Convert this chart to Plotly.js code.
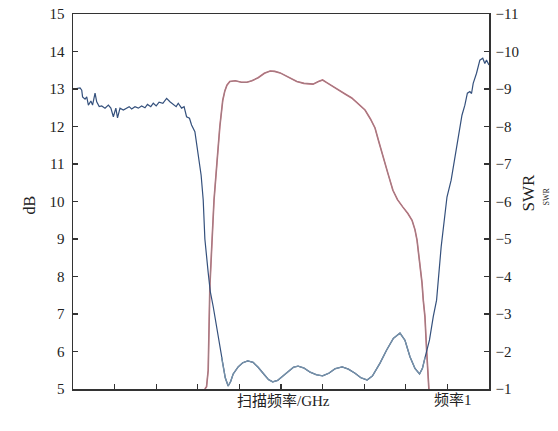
<!DOCTYPE html>
<html>
<head>
<meta charset="utf-8">
<script src="https://cdn.plot.ly/plotly-3.0.1.min.js"></script>
<style>html,body{margin:0;padding:0;background:#fff;}#chart{width:558px;height:431px;}</style>
</head>
<body>
<div id="chart"></div>
<script>
// Blue curve (dB)
var blueX = [0.01,0.17,0.21,0.23,0.29,0.33,0.37,0.43,0.47,0.53,0.57,0.63,0.69,0.77,0.85,0.91,0.97,1.03,1.07,1.13,1.21,1.29,1.35,1.41,1.49,1.57,1.65,1.73,1.79,1.87,1.93,2.0,2.07,2.16,2.25,2.33,2.41,2.48,2.53,2.61,2.67,2.73,2.8,2.85,2.93,3.0,3.08,3.13,3.17,3.25,3.3,3.37,3.45,3.57,3.66,3.73,3.79,3.85,3.97,4.08,4.2,4.33,4.45,4.6,4.7,4.8,4.92,5.05,5.2,5.3,5.41,5.55,5.7,5.85,6.0,6.15,6.3,6.47,6.62,6.78,6.92,7.07,7.2,7.38,7.54,7.7,7.86,7.98,8.1,8.22,8.33,8.4,8.46,8.57,8.66,8.74,8.85,8.99,9.09,9.18,9.25,9.35,9.42,9.48,9.54,9.58,9.62,9.7,9.78,9.85,9.9,9.94,10.0];
var blueY = [13.0,13.03,12.97,12.79,12.73,12.79,12.57,12.68,12.57,12.89,12.66,12.53,12.55,12.49,12.57,12.49,12.26,12.49,12.23,12.49,12.44,12.49,12.53,12.47,12.53,12.49,12.55,12.5,12.59,12.53,12.62,12.55,12.65,12.62,12.75,12.66,12.59,12.53,12.62,12.49,12.53,12.26,12.22,12.04,11.86,11.37,10.7,10.04,9.0,8.1,7.6,7.2,6.65,5.85,5.3,5.08,5.2,5.4,5.59,5.7,5.75,5.71,5.58,5.38,5.25,5.19,5.23,5.35,5.5,5.58,5.61,5.56,5.45,5.38,5.35,5.42,5.54,5.59,5.53,5.42,5.3,5.24,5.35,5.69,6.04,6.35,6.49,6.3,5.86,5.55,5.4,5.55,5.83,6.31,6.93,7.37,8.79,10.12,10.57,11.19,11.64,12.3,12.57,12.89,12.93,12.88,13.15,13.42,13.77,13.82,13.68,13.77,13.64];
// Red curve (dB)
var redX = [3.17,3.21,3.25,3.27,3.29,3.34,3.39,3.46,3.53,3.6,3.65,3.7,3.77,3.9,4.05,4.18,4.3,4.45,4.6,4.74,4.85,4.98,5.1,5.25,5.38,5.55,5.77,5.9,6.0,6.1,6.25,6.4,6.55,6.7,6.85,7.02,7.15,7.26,7.35,7.45,7.57,7.69,7.8,7.93,8.05,8.15,8.22,8.27,8.33,8.39,8.42,8.46,8.5,8.54,8.56];
var redY = [5.0,5.06,5.5,6.84,7.73,8.9,10.04,11.03,12.0,12.7,12.95,13.1,13.2,13.22,13.18,13.18,13.22,13.3,13.42,13.48,13.47,13.43,13.36,13.27,13.2,13.15,13.13,13.2,13.24,13.17,13.06,12.96,12.86,12.76,12.6,12.44,12.2,11.96,11.6,11.19,10.75,10.3,10.05,9.85,9.68,9.5,9.25,8.97,8.4,7.83,7.37,6.93,6.04,5.06,4.9];
var xTickVals = [0,1,2,3,4,5,6,7,8,9,10];
var leftTicks = [5,6,7,8,9,10,11,12,13,14,15];
var rightTicks = [-1,-2,-3,-4,-5,-6,-7,-8,-9,-10,-11];

// lighter overlay on the ripple part of the blue curve (same data, subset)
var rippleX = [], rippleY = [];
blueX.forEach(function(v, i){ if (v >= 3.57 && v <= 8.46) { rippleX.push(v); rippleY.push(blueY[i]); } });

var serif = "'Liberation Serif', 'Times New Roman', 'Noto Sans CJK SC', serif";
var traces = [
  {x: redX, y: redY, mode: 'lines', line: {color: '#c26373', width: 1.6}, hoverinfo: 'skip'},
  {x: redX, y: redY, mode: 'lines', line: {color: '#8e8e8e', width: 0.7}, hoverinfo: 'skip'},
  {x: blueX, y: blueY, mode: 'lines', line: {color: '#34507c', width: 1.2}, hoverinfo: 'skip'},
  {x: rippleX, y: rippleY, mode: 'lines', line: {color: '#7590a8', width: 1.4}, hoverinfo: 'skip'},
  {x: [], y: [], yaxis: 'y2', mode: 'lines', hoverinfo: 'skip'}
];
var axLine = {showline: true, linecolor: '#333', linewidth: 1.5, ticks: 'inside', ticklen: 5, tickcolor: '#333', tickwidth: 1.2, showgrid: false, zeroline: false};
var layout = {
  width: 558, height: 431,
  margin: {l: 73, r: 69, t: 14, b: 42},
  showlegend: false,
  paper_bgcolor: '#fff', plot_bgcolor: '#fff',
  font: {family: serif, size: 15, color: '#222'},
  xaxis: Object.assign({}, axLine, {range: [0, 10], tickvals: xTickVals, showticklabels: false, mirror: true}),
  yaxis: Object.assign({}, axLine, {range: [5, 15], tickvals: leftTicks, ticklabelstandoff: 4}),
  yaxis2: Object.assign({}, axLine, {range: [-1, -11], tickvals: rightTicks, overlaying: 'y', side: 'right', ticklabelstandoff: 2}),
  annotations: [
    {text: 'dB', xref: 'paper', yref: 'paper', showarrow: false, textangle: -90, font: {size: 16}},
    {text: '扫描频率/GHz', xref: 'paper', yref: 'paper', showarrow: false, font: {size: 15}},
    {text: '频率1', xref: 'paper', yref: 'paper', showarrow: false, font: {size: 15}},
    {text: 'SWR', xref: 'paper', yref: 'paper', showarrow: false, textangle: -90, font: {size: 17}},
    {text: 'SWR', xref: 'paper', yref: 'paper', showarrow: false, textangle: -90, font: {size: 8}}
  ]
};
function px(xp){return (xp-73)/(558-73-69);}
function py(yp){return (389-yp)/(389-14);}
var pos = [[18,205],[283,411],[474,410],[539,193],[552,197]];
pos.forEach(function(p,i){layout.annotations[i].x = px(p[0]); layout.annotations[i].y = py(p[1]);});
Plotly.newPlot('chart', traces, layout, {staticPlot: true});
</script>
</body>
</html>
